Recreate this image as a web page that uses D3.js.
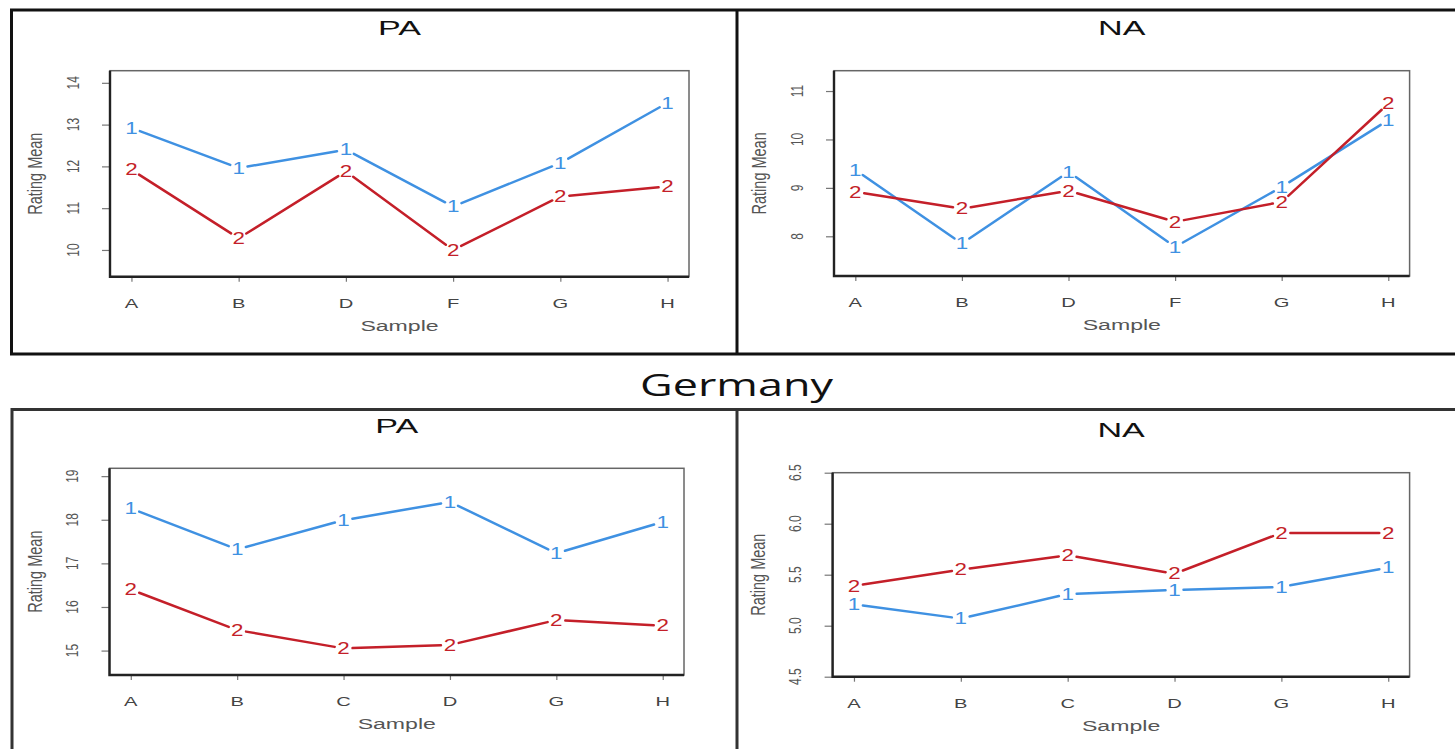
<!DOCTYPE html>
<html>
<head>
<meta charset="utf-8">
<script src="https://cdn.jsdelivr.net/npm/d3@7"></script>
<style>
  html, body { margin: 0; padding: 0; background: #fff; }
  svg { display: block; }
</style>
</head>
<body>
<svg id="chart" width="1455" height="749"></svg>
<script>
// ---- data -------------------------------------------------------------
const samplesTop = ["A", "B", "D", "F", "G", "H"];
const samplesGermany = ["A", "B", "C", "D", "G", "H"];

const topPaGroup1 = [12.92, 11.96, 12.40, 11.04, 12.08, 13.52];
const topPaGroup2 = [11.92, 10.28, 11.88, 10.00, 11.28, 11.52];
const topPaTicks = [10, 11, 12, 13, 14];

const topNaGroup1 = [9.37, 7.85, 9.33, 7.78, 9.02, 10.40];
const topNaGroup2 = [8.92, 8.57, 8.94, 8.30, 8.71, 10.74];
const topNaTicks = [8, 9, 10, 11];

const gerPaGroup1 = [18.26, 17.32, 17.99, 18.41, 17.23, 17.95];
const gerPaGroup2 = [16.40, 15.47, 15.05, 15.13, 15.70, 15.57];
const gerPaTicks = [15, 16, 17, 18, 19];

const gerNaGroup1 = [5.21, 5.07, 5.31, 5.35, 5.38, 5.57];
const gerNaGroup2 = [5.39, 5.55, 5.69, 5.51, 5.91, 5.91];
const gerNaTicks = [4.5, 5.0, 5.5, 6.0, 6.5];

const groupLabels = ["1", "2"];
const groupColors = ["#3f91e2", "#c41f29"];

// ---- layout -----------------------------------------------------------
const svg = d3.select("#chart");
const FONT = "'Liberation Sans', Arial, sans-serif";
const SX = 1.45; // horizontal glyph stretch used throughout

const panels = [
  { title: "PA", samples: samplesTop, groups: [topPaGroup1, topPaGroup2], ticks: topPaTicks,
    domain: [9.36, 14.29], tickFmt: d3.format("d"),
    box: { x0: 110, x1: 689, y0: 70.7, y1: 276.7 } },
  { title: "NA", samples: samplesTop, groups: [topNaGroup1, topNaGroup2], ticks: topNaTicks,
    domain: [7.18, 11.42], tickFmt: d3.format("d"),
    box: { x0: 834, x1: 1409.6, y0: 70.7, y1: 276 } },
  { title: "PA", samples: samplesGermany, groups: [gerPaGroup1, gerPaGroup2], ticks: gerPaTicks,
    domain: [14.44, 19.18], tickFmt: d3.format("d"),
    box: { x0: 109.5, x1: 684, y0: 468.3, y1: 675 } },
  { title: "NA", samples: samplesGermany, groups: [gerNaGroup1, gerNaGroup2], ticks: gerNaTicks,
    domain: [4.5, 6.5], tickFmt: d3.format(".1f"),
    box: { x0: 832.6, x1: 1409.6, y0: 472.7, y1: 676.7 } }
];

// horizontal text stretched in x
function hText(g, x, y, str, size, sx, opts = {}) {
  return g.append("text")
    .attr("transform", `translate(${x},${y}) scale(${sx},1)`)
    .attr("text-anchor", opts.anchor || "middle")
    .attr("font-family", opts.family || FONT)
    .attr("font-size", size)
    .attr("font-weight", opts.weight || "normal")
    .attr("fill", opts.fill || "#333")
    .attr("dy", opts.dy || 0)
    .text(str);
}
// vertical text (reads bottom-to-top) with glyph height stretched in screen x
function vText(g, x, y, str, size, sx, opts = {}) {
  return g.append("text")
    .attr("transform", `translate(${x},${y}) rotate(-90) scale(1,${sx})`)
    .attr("text-anchor", "middle")
    .attr("font-family", FONT)
    .attr("font-size", size)
    .attr("fill", opts.fill || "#333")
    .attr("dy", opts.dy || "0.36em")
    .text(str);
}

// ---- outer frames ----------------------------------------------------
const frame = svg.append("g").attr("stroke", "#111").attr("stroke-width", 3).attr("fill", "none");
frame.append("path").attr("d", "M1455,10 H11.5 V354 H1455");
frame.append("line").attr("x1", 737).attr("x2", 737).attr("y1", 10).attr("y2", 354);
const frame2 = svg.append("g").attr("stroke", "#333").attr("stroke-width", 3).attr("fill", "none");
frame2.append("path").attr("d", "M1455,409.5 H12 V749");
frame2.append("line").attr("x1", 737).attr("x2", 737).attr("y1", 409.5).attr("y2", 749);

// country heading
hText(svg, 736.5, 396, "Germany", 31, SX, { family: "'Open Sans', 'Noto Sans', sans-serif", fill: "#111" });

// ---- panels ------------------------------------------------------------
panels.forEach(p => {
  const b = p.box;
  const g = svg.append("g");

  const x = d3.scalePoint().domain(p.samples).range([b.x0, b.x1]).padding(0.2);
  const y = d3.scaleLinear().domain(p.domain).range([b.y1, b.y0]);

  // panel title
  hText(g, (b.x0 + b.x1) / 2, b.y0 - 35.5, p.title, 19.5, 1.75, { fill: "#111" });

  // x axis (ticks + labels below the box)
  const xAxis = d3.axisBottom(x).tickSize(5).tickPadding(0).tickFormat("");
  const xa = g.append("g").attr("transform", `translate(0,${b.y1})`).call(xAxis);
  xa.select(".domain").remove();
  xa.selectAll("line").attr("stroke", "#777").attr("stroke-width", 1.2);
  p.samples.forEach(s => hText(g, x(s), b.y1 + 31, s, 13, 1.55, { fill: "#444" }));

  // y axis (ticks left of the box, labels rotated)
  const yAxis = d3.axisLeft(y).tickValues(p.ticks).tickSize(8).tickFormat("");
  const ya = g.append("g").attr("transform", `translate(${b.x0},0)`).call(yAxis);
  ya.select(".domain").remove();
  ya.selectAll("line").attr("stroke", "#777").attr("stroke-width", 1.2);
  p.ticks.forEach(t => vText(g, b.x0 - 37, y(t), p.tickFmt(t), 12, 1.35, { fill: "#555" }));

  // axis titles
  hText(g, (b.x0 + b.x1) / 2, b.y1 + 54, "Sample", 14, 1.65, { fill: "#555" });
  vText(g, b.x0 - 75, (b.y0 + b.y1) / 2, "Rating Mean", 14.5, 1.35, { fill: "#555" });

  // plot box: heavier left / bottom edges
  g.append("rect").attr("x", b.x0).attr("y", b.y0).attr("width", b.x1 - b.x0).attr("height", b.y1 - b.y0)
    .attr("fill", "none").attr("stroke", "#666").attr("stroke-width", 1.5);
  g.append("path").attr("d", `M${b.x0},${b.y0} V${b.y1} H${b.x1}`)
    .attr("fill", "none").attr("stroke", "#222").attr("stroke-width", 2.4);

  // series: lines with gaps around each plotted character
  const gap = 9;
  p.groups.forEach((vals, gi) => {
    const pts = vals.map((v, i) => [x(p.samples[i]), y(v)]);
    const segs = d3.pairs(pts).map(([a, c]) => {
      const dx = c[0] - a[0], dy = c[1] - a[1];
      const len = Math.hypot(dx, dy);
      const ux = dx / len, uy = dy / len;
      return [a[0] + ux * gap, a[1] + uy * gap, c[0] - ux * gap, c[1] - uy * gap];
    });
    g.append("g").selectAll("line").data(segs).join("line")
      .attr("x1", d => d[0]).attr("y1", d => d[1])
      .attr("x2", d => d[2]).attr("y2", d => d[3])
      .attr("stroke", groupColors[gi]).attr("stroke-width", 2.5)
      .attr("stroke-linecap", "round");
    pts.forEach(pt => {
      hText(g, pt[0], pt[1], groupLabels[gi], 16, 1.4, { fill: groupColors[gi], dy: "0.36em" });
    });
  });
});
</script>
</body>
</html>
